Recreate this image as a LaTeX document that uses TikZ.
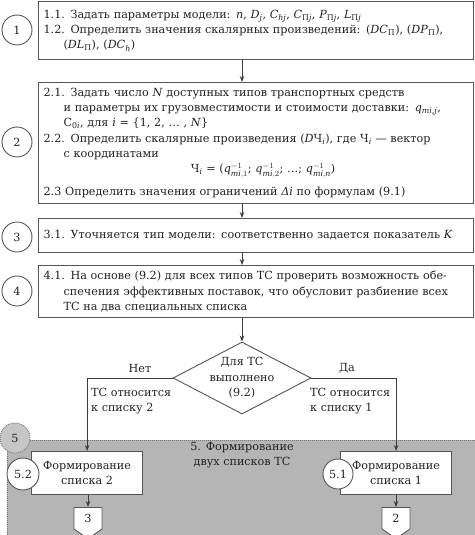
\documentclass[tikz,border=0pt]{standalone}
\usepackage{fontspec}
\setmainfont{DejaVu Serif}
\usetikzlibrary{shapes.geometric,shapes.symbols,arrows.meta}
\definecolor{bd}{HTML}{555555}
\definecolor{tx}{HTML}{222222}
\definecolor{regfill}{HTML}{B5B5B5}
\definecolor{c5fill}{HTML}{C6C6C6}
\newcommand\qq[1]{$\mathit{q}^{-1}_{\mathit{mi},#1}$}
\newcommand\ind{\hspace*{20pt}}
\newcommand\tline[1]{\mbox{#1}}
\begin{document}
\begin{tikzpicture}[x=1pt,y=-1pt,
  font=\fontsize{11.2}{15.3}\selectfont,
  box/.style={draw=bd, line width=1.2pt, fill=white, anchor=north west,
    minimum width=435pt, text width=425pt, inner xsep=5pt, align=left, text=tx},
  num/.style={circle, draw=bd, line width=0.9pt, fill=white, minimum size=30pt,
    inner sep=0pt, text=tx},
  arr/.style={draw=bd!70!black, line width=0.9pt, -{Stealth[length=6pt,width=4.5pt]}},
  smallbox/.style={draw=bd, line width=1.2pt, fill=white, anchor=north west,
    minimum width=111pt, minimum height=43pt, align=center, text=tx, inner sep=0pt},
  conn/.style={signal, signal to=south, signal from=nowhere, signal pointer angle=110,
    draw=bd, line width=0.9pt, fill=white, minimum width=28pt, minimum height=24pt,
    anchor=north, inner sep=0pt, text=tx},
  lbl/.style={text=tx, inner sep=0pt, align=left}
]
\useasboundingbox (0,0) rectangle (474,535);

% region 5
\node[fill=regfill, draw=bd!80, dash pattern=on 1pt off 1pt, line width=0.8pt,
  anchor=north west, minimum width=470pt, minimum height=100pt, inner sep=0pt] (r5) at (7,440) {};

% boxes
\node[box, minimum height=58pt] (b1) at (38,1) {\tline{1.1. Задать параметры модели: \textit{n}, \textit{D}\textsubscript{\textit{j}}, \textit{C}\textsubscript{\textit{hj}}, \textit{C}\textsubscript{П\textit{j}}, \textit{P}\textsubscript{П\textit{j}}, \textit{L}\textsubscript{П\textit{j}}}\\
\tline{1.2. Определить значения скалярных произведений: (\textit{DC}\textsubscript{П}), (\textit{DP}\textsubscript{П}),}\\
\ind(\textit{DL}\textsubscript{П}), (\textit{DC}\textsubscript{\textit{h}})};

\node[box, minimum height=121pt] (b2) at (38,82) {\tline{2.1. Задать число \textit{N} доступных типов транспортных средств}\\
\ind\tline{и параметры их грузовместимости и стоимости доставки: \textit{q}\textsubscript{\textit{mi,j}},}\\
\ind\tline{С\textsubscript{0\textit{i}}, для \textit{i} = \{1, 2, … , \textit{N}\}}\\
\tline{2.2. Определить скалярные произведения (\textit{D}Ч\textsubscript{\textit{i}}), где Ч\textsubscript{\textit{i}} — вектор}\\
\ind с координатами\\
\makebox[\linewidth]{\hspace{14pt}Ч\textsubscript{\textit{i}} = (\qq{1}; \qq{2}; …; \qq{\mathit{n}})}\\[8pt]
\tline{2.3 Определить значения ограничений \textit{Δi} по формулам (9.1)}};

\node[box, minimum height=34pt] (b3) at (38,218) {\tline{3.1. Уточняется тип модели: соответственно задается показатель \textit{K}}};

\node[box, minimum height=52pt] (b4) at (38,265) {\tline{4.1. На основе (9.2) для всех типов ТС проверить возможность обе-}\\
\ind\tline{спечения эффективных поставок, что обусловит разбиение всех}\\
\ind ТС на два специальных списка};

% circles
\node[num] (c1) at (17,30) {1};
\node[num] (c2) at (17,142) {2};
\node[num] (c3) at (17,237) {3};
\node[num] (c4) at (17,291) {4};

% diamond
\node[diamond, draw=bd, line width=0.9pt, fill=white, minimum width=138pt,
  minimum height=72pt, inner sep=0pt] (d) at (242,378) {};
\node[lbl, align=center] (dt) at (d.center) {Для ТС\\выполнено\\(9.2)};

% arrows between boxes
\draw[arr] (b1.south -| d.north) -- (b2.north -| d.north);
\draw[arr] (b2.south -| d.north) -- (b3.north -| d.north);
\draw[arr] (b3.south -| d.north) -- (b4.north -| d.north);
\draw[arr] (b4.south -| d.north) -- (d.north);

% lower boxes
\node[smallbox] (b52) at (31,451) {Формирование\\списка 2};
\node[smallbox] (b51) at (340,451) {Формирование\\списка 1};
\node[num, minimum size=32pt] (c52) at (23,474) {5.2};
\node[num] (c51) at (338,474) {5.1};
\node[num, fill=c5fill, dash pattern=on 1pt off 1pt, draw=bd!80] (c5) at (15,438) {5};
\node[lbl, align=center] (t5) at (242,455) {5. Формирование\\двух списков ТС};

% branches
\draw[arr] (d.west) -| (b52.north);
\draw[arr] (d.east) -| (b51.north);
\node[lbl] (no) at (140,368) {Нет};
\node[lbl] (yes) at (347,368) {Да};
\node[lbl, anchor=west] (t2) at (91,401) {ТС относится\\к списку 2};
\node[lbl, anchor=west] (t1) at (310,401) {ТС относится\\к списку 1};

% off-page connectors
\node[conn] (p3) at (88,507) {3};
\node[conn] (p2) at (396,507) {2};
\draw[arr] (b52.south -| p3.north) -- (p3.north);
\draw[arr] (b51.south -| p2.north) -- (p2.north);
\end{tikzpicture}
\end{document}
